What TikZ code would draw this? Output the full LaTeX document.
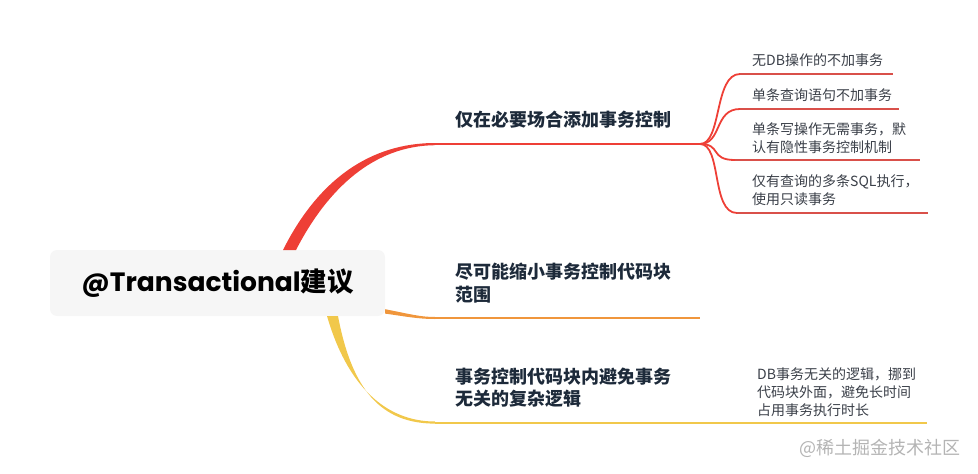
\documentclass[tikz,border=0pt]{standalone}
\usepackage{fontspec}
\usetikzlibrary{calc}
\newfontfamily\cjk{Noto Sans CJK SC}
\newfontfamily\poppins{Poppins}
\definecolor{rootfill}{HTML}{F6F6F6}
\definecolor{redb}{HTML}{EE3F36}
\definecolor{redl}{HTML}{D9504A}
\definecolor{orab}{HTML}{F0963C}
\definecolor{yelb}{HTML}{F1C84B}
\definecolor{topictxt}{HTML}{1D2A3A}
\definecolor{leaftxt}{HTML}{3A3F48}
\definecolor{wm}{HTML}{B4B4B4}
\tikzset{
  rootbox/.style={rounded corners=7pt, fill=rootfill, minimum width=335pt, minimum height=66pt, inner sep=0pt},
  topic/.style={anchor=west, inner sep=0pt, align=left, text=topictxt, font=\cjk\bfseries\fontsize{18}{22.5}\selectfont},
  leaf/.style={anchor=west, inner sep=0pt, align=left, text=leaftxt, font=\cjk\fontsize{14}{18}\selectfont},
  subline/.style={draw=redl, line width=1.8pt},
  subcurve/.style={draw=redb, line width=1.8pt},
}
\begin{document}
\begin{tikzpicture}[x=1pt,y=-1pt]
\useasboundingbox (0,0) rectangle (978,474);
% root
\node[rootbox] (root) at (217.5,283) {\fontsize{26.5}{30}\selectfont{\poppins\bfseries @Transactional}{\cjk\bfseries 建议}};
% topic coordinates
\coordinate (a1) at (435,144); \coordinate (b1) at (700,144);
\coordinate (a2) at (435,318); \coordinate (b2) at (700,318);
\coordinate (a3) at (435,422.5); \coordinate (b3) at (927,422.5);
% topics
\node[topic] (t1) at (455,120) {仅在必要场合添加事务控制};
\node[topic] (t2) at (455,283) {尽可能缩小事务控制代码块\\范围};
\node[topic] (t3) at (455,387.5) {事务控制代码块内避免事务\\无关的复杂逻辑};
% red branch (tapered)
\fill[redb] (283,250) .. controls (318,180) and (370,143) .. (435,143) -- (435,145.2) .. controls (374,145.8) and (328,188) .. (296,250) -- cycle;
\draw[redb, line width=2pt] (a1) -- (b1);
% orange branch
\fill[orab] (385,309.2) .. controls (410,314) and (420,317) .. (435,317) -- (435,319) .. controls (418,319) and (406,316.5) .. (385,313.6) -- cycle;
\draw[orab, line width=2pt] (a2) -- (b2);
% yellow branch
\fill[yelb] (327,316) .. controls (347,385) and (385,421.5) .. (435,421.5) -- (435,423.6) .. controls (381,423.6) and (352,390) .. (338,316) -- cycle;
\draw[yelb, line width=2pt] (a3) -- (b3);
% leaves of topic 1
\node[leaf] (l1) at (752,60) {无DB操作的不加事务};
\node[leaf] (l2) at (752,95) {单条查询语句不加事务};
\node[leaf] (l3) at (752,138) {单条写操作无需事务，默\\认有隐性事务控制机制};
\node[leaf] (l4) at (752,190.5) {仅有查询的多条SQL执行，\\使用只读事务};
\coordinate (s1) at (740,74);  \coordinate (e1) at (893,74);
\coordinate (s2) at (740,109); \coordinate (e2) at (899,109);
\coordinate (s3) at (735,160); \coordinate (e3) at (920,160);
\coordinate (s4) at (737,213); \coordinate (e4) at (928,213);
\foreach \i in {1,2,3,4} {
  \draw[subcurve] (b1) .. controls ($(b1)+(22,0)$) and ($(s\i)+(-26,0)$) .. (s\i);
  \draw[subline] (s\i) -- (e\i);
}
% leaf of topic 3
\node[leaf] (l5) at (757,392) {DB事务无关的逻辑，挪到\\代码块外面，避免长时间\\占用事务执行时长};
% watermark
\node[inner sep=0pt, text=wm, font=\cjk\fontsize{18}{20}\selectfont] (wmk) at (880,448) {@稀土掘金技术社区};
\end{tikzpicture}
\end{document}
